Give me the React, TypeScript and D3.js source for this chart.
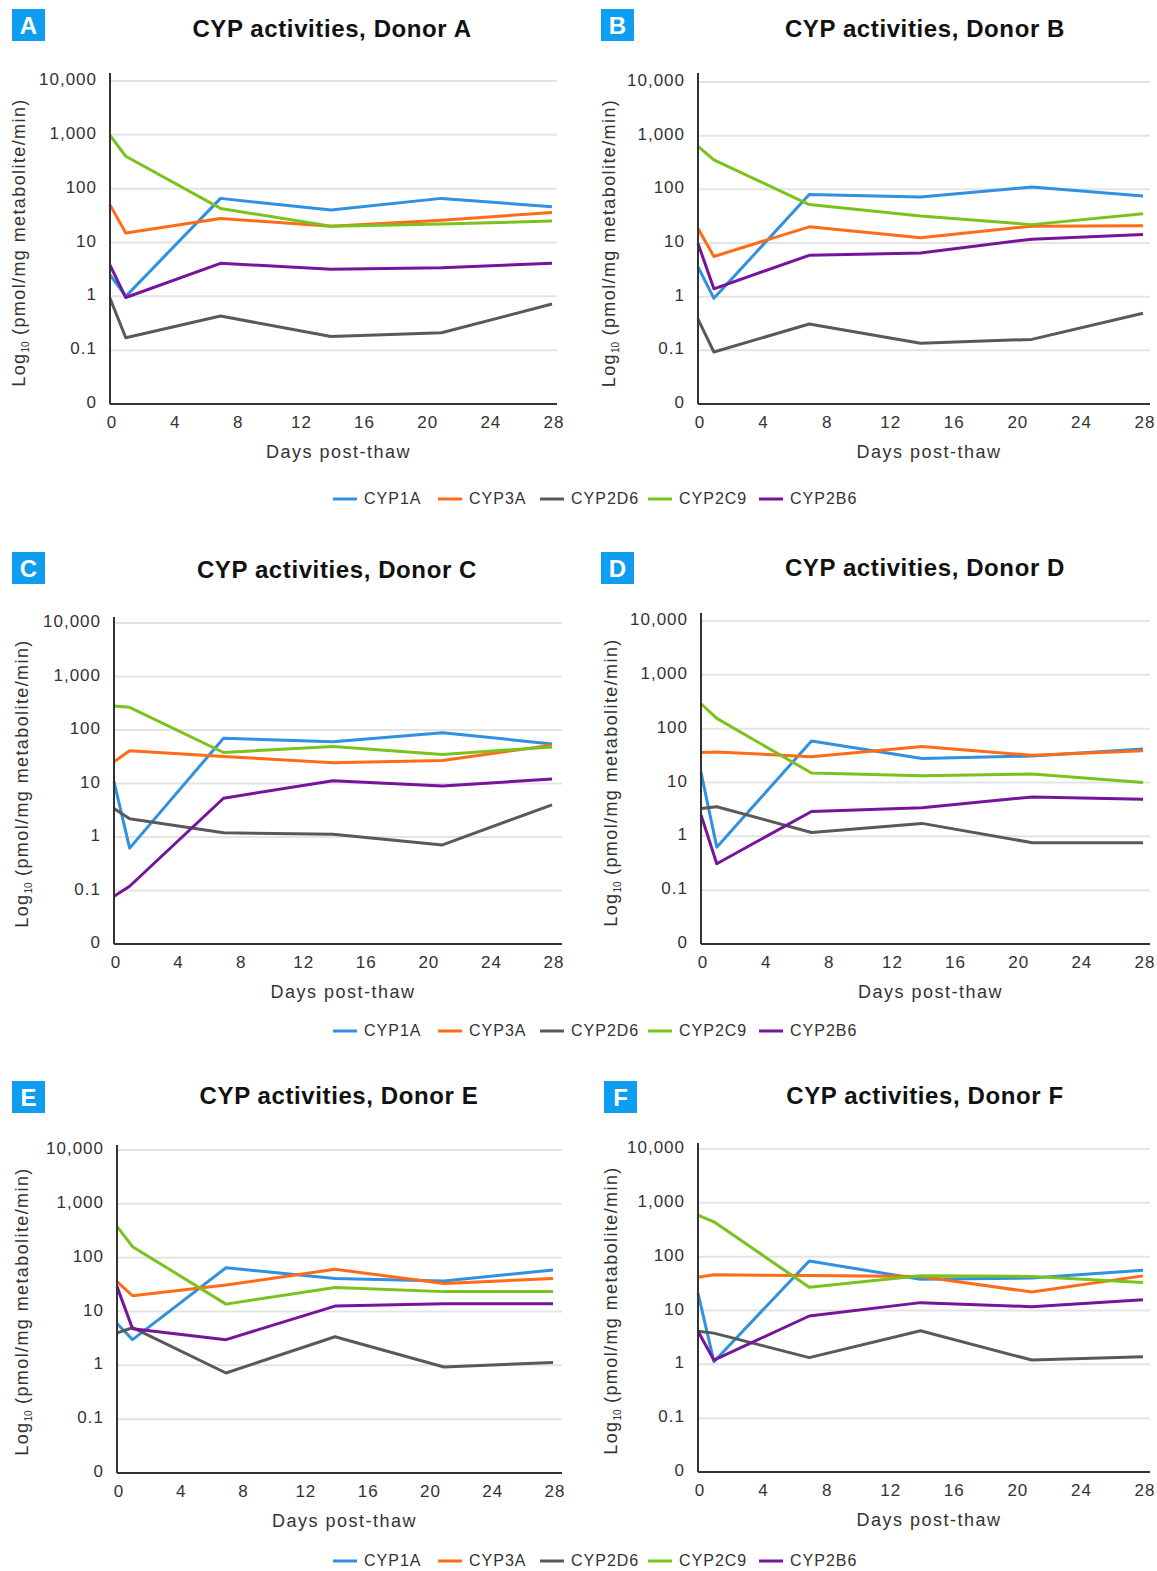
import React from 'react';
import * as d3 from 'd3';

// sampling days and axis ticks
const days = [0, 1, 7, 14, 21, 28];
const xTicks = [0, 4, 8, 12, 16, 20, 24, 28];
const yTicks = [10000, 1000, 100, 10, 1, 0.1, 0.01];
const yTickLabels = ['10,000', '1,000', '100', '10', '1', '0.1', '0'];

const seriesNames = ['CYP1A', 'CYP3A', 'CYP2D6', 'CYP2C9', 'CYP2B6'];
const seriesColors = ['#2f91e0', '#ff6b17', '#595959', '#7bc21d', '#76149a'];

const donorNames = ['A', 'B', 'C', 'D', 'E', 'F'];

// pmol/mg metabolite/min, one row per CYP in seriesNames order
const donorA = [
  [2.5, 1.0, 66, 40, 66, 46],
  [50, 15, 28, 20, 26, 36],
  [0.92, 0.17, 0.43, 0.18, 0.21, 0.72],
  [980, 400, 43, 20, 22, 25],
  [3.8, 0.95, 4.1, 3.2, 3.4, 4.1],
];
const donorB = [
  [3.6, 0.93, 80, 72, 110, 75],
  [18.6, 5.6, 20, 12.5, 20.6, 21],
  [0.38, 0.093, 0.31, 0.135, 0.16, 0.49],
  [630, 355, 52, 32, 22, 35],
  [9.8, 1.4, 5.9, 6.5, 11.8, 14.4],
];
const donorC = [
  [10.8, 0.62, 70, 60, 89, 55],
  [25.6, 41, 32, 24.5, 27, 52],
  [3.4, 2.2, 1.2, 1.12, 0.71, 4.0],
  [280, 265, 38, 49, 35, 48],
  [0.078, 0.12, 5.3, 11.3, 9, 12.1],
];
const donorD = [
  [15.5, 0.63, 59, 28, 31, 42],
  [36, 37, 30, 46.5, 32, 39],
  [3.3, 3.55, 1.18, 1.74, 0.76, 0.76],
  [290, 155, 15, 13.4, 14.4, 10],
  [2.5, 0.31, 2.9, 3.4, 5.4, 4.9],
];
const donorE = [
  [6, 3.0, 65, 41, 37, 59],
  [36, 19.6, 31, 61, 33, 41],
  [4.0, 5.0, 0.72, 3.4, 0.93, 1.13],
  [380, 160, 13.7, 28, 23.4, 23.4],
  [29, 4.8, 3.0, 12.6, 14, 14],
];
const donorF = [
  [21, 1.12, 83, 38, 40, 56],
  [41.5, 46, 44.5, 43, 22, 44],
  [4.1, 3.8, 1.33, 4.2, 1.2, 1.38],
  [590, 445, 27, 44, 43, 33],
  [4.1, 1.2, 7.9, 14, 11.8, 15.8],
];
const donorData = [donorA, donorB, donorC, donorD, donorE, donorF];

// panel geometry (page pixels)
const panels = [
  { ax: 110, x28: 552, gridEnd: 557, yTop: 81, yBot: 404, axisTop: 73, badge: [12, 9], titleX: 332, titleY: 28, ylabX: 19 },
  { ax: 698, x28: 1143, gridEnd: 1150, yTop: 82, yBot: 404, axisTop: 73, badge: [601, 9], titleX: 925, titleY: 28, ylabX: 609 },
  { ax: 114, x28: 552, gridEnd: 562, yTop: 623, yBot: 944, axisTop: 617, badge: [12, 552], titleX: 337, titleY: 569, ylabX: 22 },
  { ax: 701, x28: 1143, gridEnd: 1150, yTop: 621, yBot: 944, axisTop: 613, badge: [601, 552], titleX: 925, titleY: 567, ylabX: 611 },
  { ax: 117, x28: 553, gridEnd: 562, yTop: 1150, yBot: 1473, axisTop: 1145, badge: [12, 1081], titleX: 339, titleY: 1095, ylabX: 22 },
  { ax: 698, x28: 1143, gridEnd: 1150, yTop: 1149, yBot: 1472, axisTop: 1143, badge: [604, 1081], titleX: 925, titleY: 1095, ylabX: 611 },
];

const legendRows = [504, 1036, 1566];
const legendItemX = [333, 438, 540, 648, 759];

const FONT = '"Liberation Sans", Arial, sans-serif';

function Panel({ idx }: { idx: number }) {
  const p = panels[idx];
  const data = donorData[idx];
  const x = d3.scaleLinear().domain([0, 28]).range([p.ax, p.x28]);
  const y = d3.scaleLog().domain([0.01, 10000]).range([p.yBot, p.yTop]);
  const line = d3
    .line<number>()
    .x((_, i) => x(days[i]))
    .y((v) => y(v));
  const midY = (p.yTop + p.yBot) / 2;

  return (
    <g>
      {/* badge + title */}
      <rect x={p.badge[0]} y={p.badge[1]} width={33} height={32} fill="#0f9df0" />
      <text x={p.badge[0] + 16.5} y={p.badge[1] + 25} textAnchor="middle" fill="#fff" fontSize={24} fontWeight="bold" fontFamily={FONT}>
        {donorNames[idx]}
      </text>
      <text x={p.titleX} y={p.titleY + 9} textAnchor="middle" fontSize={24} fontWeight="bold" fontFamily={FONT} fill="#111" letterSpacing={0.6}>
        {`CYP activities, Donor ${donorNames[idx]}`}
      </text>

      {/* grid */}
      {yTicks.slice(0, -1).map((t) => (
        <line key={t} x1={p.ax} x2={p.gridEnd} y1={y(t)} y2={y(t)} stroke="#e4e4e4" strokeWidth={2} />
      ))}

      {/* y tick labels */}
      {yTicks.map((t, i) => (
        <text key={t} x={p.ax - 13} y={y(t) + 4} textAnchor="end" fontSize={17} fontFamily={FONT} fill="#333" letterSpacing={1}>
          {yTickLabels[i]}
        </text>
      ))}

      {/* x tick labels */}
      {xTicks.map((t) => (
        <text key={t} x={x(t) + 2} y={p.yBot + 24} textAnchor="middle" fontSize={17} fontFamily={FONT} fill="#333" letterSpacing={1}>
          {t}
        </text>
      ))}

      {/* series */}
      {data.map((vals, s) => (
        <path key={s} d={line(vals) || ''} fill="none" stroke={seriesColors[s]} strokeWidth={3} strokeLinejoin="round" />
      ))}

      {/* axes */}
      <line x1={p.ax} x2={p.ax} y1={p.axisTop} y2={p.yBot} stroke="#333" strokeWidth={2} />
      <line x1={p.ax} x2={p.gridEnd} y1={p.yBot} y2={p.yBot} stroke="#333" strokeWidth={2} />

      {/* axis titles */}
      <text x={(p.ax + p.gridEnd) / 2 + 5} y={p.yBot + 54} textAnchor="middle" fontSize={18} fontFamily={FONT} fill="#333" letterSpacing={1.5}>
        Days post-thaw
      </text>
      <text
        transform={`translate(${p.ylabX},${midY}) rotate(-90)`}
        textAnchor="middle"
        dy={6}
        fontSize={18}
        fontFamily={FONT}
        fill="#333"
        letterSpacing={1.4}
      >
        Log<tspan fontSize={10} dy={4} letterSpacing={0}>10</tspan>
        <tspan dy={-4}> (pmol/mg metabolite/min)</tspan>
      </text>
    </g>
  );
}

function Legend({ y }: { y: number }) {
  return (
    <g>
      {seriesNames.map((name, i) => (
        <g key={name}>
          <line x1={legendItemX[i]} x2={legendItemX[i] + 24} y1={y - 5} y2={y - 5} stroke={seriesColors[i]} strokeWidth={3} />
          <text x={legendItemX[i] + 31} y={y} fontSize={16} fontFamily={FONT} fill="#333" letterSpacing={1}>
            {name}
          </text>
        </g>
      ))}
    </g>
  );
}

export default function App() {
  return (
    <svg width={1157} height={1571} style={{ position: 'absolute', left: 0, top: 0, background: '#fff' }}>
      <rect width={1157} height={1571} fill="#fff" />
      {panels.map((_, i) => (
        <Panel key={i} idx={i} />
      ))}
      {legendRows.map((ly) => (
        <Legend key={ly} y={ly} />
      ))}
    </svg>
  );
}
